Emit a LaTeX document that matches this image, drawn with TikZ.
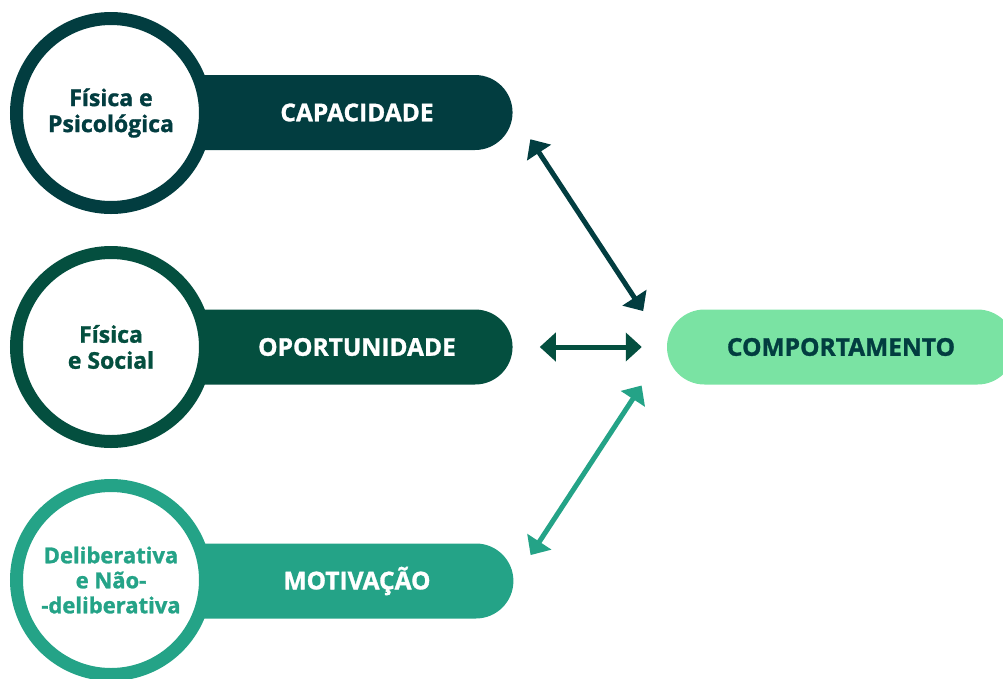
\documentclass[tikz,border=0pt]{standalone}
\usepackage{fontspec}
\setmainfont{Open Sans}[BoldFeatures={FakeBold=1.2}]
\usetikzlibrary{shapes.misc,arrows.meta}
\definecolor{capcol}{HTML}{023D40}
\definecolor{opocol}{HTML}{044F3F}
\definecolor{motcol}{HTML}{24A387}
\definecolor{comcol}{HTML}{7AE3A3}

\begin{document}
\begin{tikzpicture}[x=1pt,y=-1pt,
  bar/.style={rounded rectangle,rounded rectangle west arc=none,minimum width=310pt,minimum height=75pt,inner sep=0pt,text=white,font=\fontsize{24.5}{26}\selectfont\bfseries},
  ring/.style={circle,draw=#1,line width=13pt,fill=white,minimum size=189pt,inner sep=0pt,text=#1,align=center,font=\fontsize{23}{26}\selectfont\bfseries},
  link/.style={line width=5pt,{Triangle[length=16pt,width=28pt]}-{Triangle[length=16pt,width=28pt]}}]
\useasboundingbox (0,0) rectangle (1003,678);
\node[bar,fill=capcol] (capacidade) at (357,112.5) {CAPACIDADE};
\node[bar,fill=opocol] (oportunidade) at (357,347) {OPORTUNIDADE};
\node[bar,fill=motcol] (motivacao) at (357,581) {MOTIVAÇÃO};
\node[ring=capcol] (fispsi) at (111,113) {Física e\\Psicológica};
\node[ring=opocol] (fissoc) at (111,347) {Física\\e Social};
\node[ring=motcol,font=\fontsize{22}{25}\selectfont\bfseries] (delib) at (111,580) {Deliberativa\\e Não-\\-deliberativa};
\node[bar,rounded rectangle west arc=convex,minimum width=348pt,fill=comcol,text=capcol] (comportamento) at (841,347) {COMPORTAMENTO};
\draw[link,capcol,shorten <=32pt,shorten >=43pt] (capacidade.east) -- (comportamento.west);
\draw[link,opocol,shorten <=27pt,shorten >=25pt] (oportunidade.east) -- (comportamento.west);
\draw[link,motcol,shorten <=31pt,shorten >=46pt] (motivacao.east) -- (comportamento.west);
\end{tikzpicture}
\end{document}
